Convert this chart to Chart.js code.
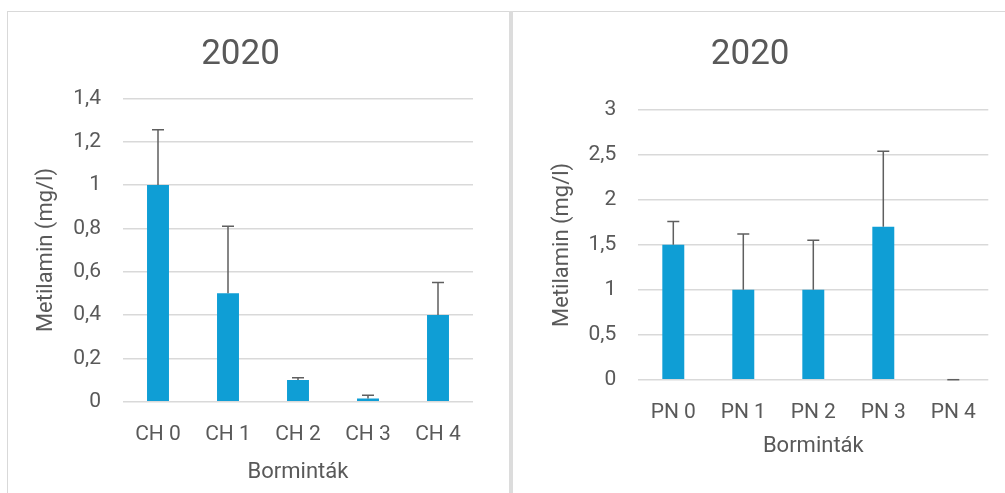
<!DOCTYPE html>
<html>
<head>
<meta charset="utf-8">
<script src="https://cdn.jsdelivr.net/npm/chart.js@4"></script>
<style>
  html, body { margin: 0; padding: 0; background: #fff; overflow: hidden; }
  body { width: 1005px; height: 493px; position: relative; }
  .frame { position: absolute; border: 0 solid #d9d9d9; }
  #frameLeft { left: 7px; top: 11px; width: 502px; height: 500px; border-left-width: 1.5px; border-top-width: 1.5px; }
  #frameRight { left: 509px; top: 11px; width: 520px; height: 500px; border-top-width: 1.5px; }
  #sep { position: absolute; left: 509px; top: 11px; width: 4px; height: 500px; background: #dcdcdc; }
  canvas { position: absolute; }
  #chLeft { left: 8px; top: 12px; }
  #chRight { left: 512px; top: 12px; }
</style>
</head>
<body>
<div class="frame" id="frameLeft"></div>
<div class="frame" id="frameRight"></div>
<div id="sep"></div>
<canvas id="chLeft" width="501" height="481"></canvas>
<canvas id="chRight" width="505" height="481"></canvas>
<script>
// adatok
const chCategories = ['CH 0', 'CH 1', 'CH 2', 'CH 3', 'CH 4'];
const chValues = [1, 0.5, 0.1, 0.015, 0.4];
const chErrors = [0.255, 0.31, 0.01, 0.015, 0.15];

const pnCategories = ['PN 0', 'PN 1', 'PN 2', 'PN 3', 'PN 4'];
const pnValues = [1.5, 1, 1, 1.7, 0];
const pnErrors = [0.26, 0.62, 0.55, 0.84, 0];

const chartTitle = '2020';
const yTitle = 'Metilamin (mg/l)';
const xTitle = 'Borminták';

const textColor = '#595959';
const gridColor = '#d9d9d9';
const barColor = '#0f9ed5';
const fontFamily = 'Roboto, "Noto Sans", sans-serif';

Chart.defaults.font.family = fontFamily;
Chart.defaults.color = textColor;

// hibasávok rajzolása (csak felfelé)
const errorBarPlugin = {
    id: 'errorBars',
    afterDatasetsDraw(chart) {
        const errors = chart.options.plugins.errorBars.errors;
        const meta = chart.getDatasetMeta(0);
        const yScale = chart.scales.y;
        const values = chart.data.datasets[0].data;
        const ctx = chart.ctx;
        ctx.save();
        ctx.strokeStyle = '#5f5f5f';
        ctx.lineWidth = 1.5;
        meta.data.forEach((bar, i) => {
            const yTop = yScale.getPixelForValue(values[i] + errors[i]);
            const yBase = yScale.getPixelForValue(values[i]);
            ctx.beginPath();
            ctx.moveTo(bar.x, yBase);
            ctx.lineTo(bar.x, yTop);
            ctx.moveTo(bar.x - 6, yTop);
            ctx.lineTo(bar.x + 6, yTop);
            ctx.stroke();
        });
        ctx.restore();
    }
};

const fmt = (v) => String(Math.round(v * 10) / 10).replace('.', ',');

const makeChart = (id, labels, values, errors, cfg) => {
    const ctx = document.getElementById(id).getContext('2d');
    return new Chart(ctx, {
        type: 'bar',
        data: {
            labels: labels,
            datasets: [{
                data: values,
                backgroundColor: barColor,
                borderWidth: 0,
                barPercentage: 0.98,
                categoryPercentage: 0.32
            }]
        },
        options: {
            responsive: false,
            animation: false,
            devicePixelRatio: 1,
            layout: { padding: { left: 0, right: cfg.padRight, top: 0, bottom: 0 } },
            plugins: {
                legend: { display: false },
                tooltip: { enabled: false },
                title: {
                    display: true,
                    text: chartTitle,
                    color: textColor,
                    font: { size: 35, weight: 'normal' },
                    padding: { top: 22, bottom: cfg.titleBottom }
                },
                errorBars: { errors: errors }
            },
            scales: {
                x: {
                    grid: { display: false, drawTicks: false },
                    border: { display: false },
                    ticks: { color: textColor, font: { size: 21 }, padding: 20 },
                    title: {
                        display: true,
                        text: xTitle,
                        color: textColor,
                        font: { size: 22 },
                        padding: { top: 0, bottom: cfg.xTitleBottom }
                    },
                    afterFit: (scale) => { scale.height = cfg.xHeight; }
                },
                y: {
                    min: 0,
                    max: cfg.yMax,
                    grid: { color: gridColor, lineWidth: 1.5, drawTicks: false },
                    border: { display: false },
                    ticks: {
                        stepSize: cfg.yStep,
                        color: textColor,
                        font: { size: 21 },
                        padding: 22,
                        callback: (v) => fmt(v)
                    },
                    title: {
                        display: true,
                        text: yTitle,
                        color: textColor,
                        font: { size: 22 },
                        padding: { top: cfg.yTitleTop, bottom: 0 }
                    },
                    afterFit: (scale) => { scale.width = cfg.yWidth; }
                }
            }
        },
        plugins: [errorBarPlugin]
    });
};

makeChart('chLeft', chCategories, chValues, chErrors, {
    padRight: 36,
    titleBottom: 22.3,
    xHeight: 91.3,
    xTitleBottom: 7.3,
    yWidth: 115,
    yTitleTop: 24.8,
    yMax: 1.4,
    yStep: 0.2
});

makeChart('chRight', pnCategories, pnValues, pnErrors, {
    padRight: 28.7,
    titleBottom: 34,
    xHeight: 113.3,
    xTitleBottom: 33.8,
    yWidth: 126.3,
    yTitleTop: 36.8,
    yMax: 3,
    yStep: 0.5
});
</script>
</body>
</html>
